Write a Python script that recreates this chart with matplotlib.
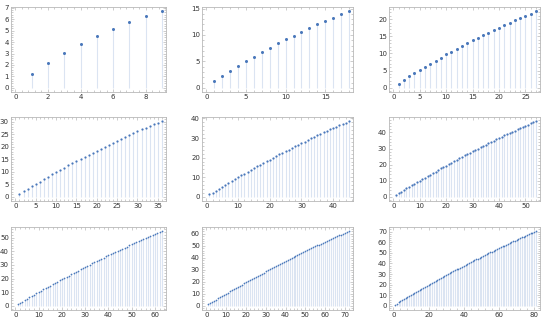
import matplotlib.pyplot as plt
from matplotlib.ticker import MultipleLocator, AutoMinorLocator

# values, one list per panel (k = 1..n)
vals_9 = [1.25, 2.2, 3.05, 3.85, 4.5, 5.15, 5.75, 6.25, 6.7]
vals_18 = [1.3, 2.3, 3.2, 4.15, 5.05, 5.9, 6.75, 7.6, 8.4, 9.15, 9.9, 10.6,
           11.3, 12.0, 12.65, 13.3, 13.9, 14.5]
vals_27 = [1.2, 2.2, 3.3, 4.3, 5.2, 6.1, 7.0, 7.9, 8.8, 9.7, 10.5, 11.4, 12.2,
           13.0, 13.8, 14.6, 15.4, 16.1, 16.8, 17.5, 18.2, 18.9, 19.6, 20.3,
           21.0, 21.6, 22.3]
vals_36 = [1.2, 2.2, 3.2, 4.2, 5.2, 6.1, 7.1, 8.0, 9.0, 9.9, 10.8, 11.7, 12.6,
           13.5, 14.3, 15.2, 16.0, 16.9, 17.7, 18.5, 19.3, 20.1, 20.9, 21.7,
           22.5, 23.2, 24.0, 24.7, 25.5, 26.2, 27.0, 27.7, 28.3, 29.0, 29.6,
           30.3]
vals_45 = [1.2, 2.2, 3.2, 4.2, 5.2, 6.1, 7.1, 8.0, 9.0, 9.9, 10.9, 11.8, 12.7,
           13.6, 14.6, 15.5, 16.4, 17.2, 18.1, 19.0, 19.9, 20.7, 21.6, 22.4,
           23.3, 24.1, 25.0, 25.8, 26.6, 27.4, 28.2, 29.0, 29.8, 30.6, 31.4,
           32.1, 32.9, 33.6, 34.4, 35.1, 35.8, 36.5, 37.2, 37.9, 38.6]
vals_54 = [1.2, 2.2, 3.2, 4.2, 5.2, 6.2, 7.1, 8.1, 9.1, 10.0, 11.0, 11.9, 12.9,
           13.8, 14.8, 15.7, 16.6, 17.6, 18.5, 19.4, 20.3, 21.2, 22.1, 23.0,
           23.9, 24.8, 25.7, 26.5, 27.4, 28.3, 29.1, 30.0, 30.8, 31.6, 32.5,
           33.3, 34.1, 34.9, 35.7, 36.5, 37.3, 38.1, 38.9, 39.6, 40.4, 41.2,
           41.9, 42.7, 43.4, 44.1, 44.9, 45.6, 46.3, 47.0]
vals_63 = [1.2, 2.2, 3.2, 4.2, 5.2, 6.2, 7.2, 8.1, 9.1, 10.1, 11.0, 12.0, 12.9,
           13.9, 14.8, 15.8, 16.7, 17.6, 18.6, 19.5, 20.4, 21.3, 22.2, 23.1,
           24.0, 24.9, 25.8, 26.7, 27.6, 28.5, 29.3, 30.2, 31.1, 31.9, 32.8,
           33.6, 34.5, 35.3, 36.2, 37.0, 37.8, 38.6, 39.4, 40.3, 41.1, 41.9,
           42.7, 43.4, 44.2, 45.0, 45.8, 46.6, 47.3, 48.1, 48.8, 49.6, 50.3,
           51.1, 51.8, 52.5, 53.3, 54.0, 54.7]
vals_72 = [1.2, 2.2, 3.2, 4.2, 5.2, 6.2, 7.2, 8.2, 9.1, 10.1, 11.1, 12.0, 13.0,
           13.9, 14.9, 15.8, 16.8, 17.7, 18.7, 19.6, 20.5, 21.5, 22.4, 23.3,
           24.2, 25.1, 26.0, 26.9, 27.8, 28.7, 29.6, 30.5, 31.4, 32.2, 33.1,
           34.0, 34.8, 35.7, 36.5, 37.4, 38.2, 39.1, 39.9, 40.7, 41.6, 42.4,
           43.2, 44.0, 44.8, 45.6, 46.4, 47.2, 48.0, 48.8, 49.6, 50.4, 51.1,
           51.9, 52.7, 53.4, 54.2, 55.0, 55.7, 56.5, 57.2, 57.9, 58.7, 59.4,
           60.1, 60.9, 61.6, 62.3]
vals_81 = [1.2, 2.2, 3.2, 4.2, 5.2, 6.2, 7.2, 8.2, 9.2, 10.1, 11.1, 12.1, 13.0,
           14.0, 14.9, 15.9, 16.8, 17.8, 18.7, 19.7, 20.6, 21.6, 22.5, 23.4,
           24.4, 25.3, 26.2, 27.1, 28.0, 28.9, 29.8, 30.7, 31.6, 32.5, 33.4,
           34.3, 35.2, 36.1, 36.9, 37.8, 38.7, 39.5, 40.4, 41.3, 42.1, 43.0,
           43.8, 44.6, 45.5, 46.3, 47.1, 48.0, 48.8, 49.6, 50.4, 51.2, 52.0,
           52.8, 53.6, 54.4, 55.2, 56.0, 56.8, 57.6, 58.4, 59.1, 59.9, 60.7,
           61.4, 62.2, 63.0, 63.7, 64.5, 65.2, 66.0, 66.7, 67.5, 68.2, 68.9,
           69.7, 70.4]

panels = [vals_9, vals_18, vals_27, vals_36, vals_45, vals_54, vals_63,
          vals_72, vals_81]
x_steps = [2, 5, 5, 5, 10, 10, 10, 10, 20]
y_steps = [1, 5, 5, 5, 10, 10, 10, 10, 10]

# frame boxes in pixels: (left, right) per column, (top, bottom) per row
cols = [(11, 166), (202, 353), (389, 540)]
rows = [(7, 92), (117, 201), (227, 310)]

W, H = 550, 326
fig = plt.figure(figsize=(W / 100, H / 100), dpi=100)

stem_col = "#dbe4f2"
dot_col = "#4a78bb"
frame_col = "#b8b8b8"
dot_sizes = [2.2, 1.6, 1.25]

for i, vals in enumerate(panels):
    r, c = divmod(i, 3)
    l, rt = cols[c]
    t, b = rows[r]
    ax = fig.add_axes([l / W, 1 - b / H, (rt - l) / W, (b - t) / H])
    n = len(vals)
    ks = list(range(1, n + 1))
    ax.vlines(ks, 0, vals, color=stem_col, lw=0.8)
    ax.plot(ks, vals, "o", color=dot_col, ms=dot_sizes[r], mew=0)
    top = max(vals)
    ax.set_xlim(-0.03 * n, n * 1.028)
    ax.set_ylim(-0.055 * top, top * 1.055)
    ax.xaxis.set_major_locator(MultipleLocator(x_steps[i]))
    ax.yaxis.set_major_locator(MultipleLocator(y_steps[i]))
    ax.xaxis.set_minor_locator(AutoMinorLocator(5))
    ax.yaxis.set_minor_locator(AutoMinorLocator(5))
    ax.tick_params(which="both", direction="in", top=True, right=True,
                   color=frame_col, width=0.5, labelsize=5, pad=1.5,
                   labelcolor="#333333")
    ax.tick_params(which="major", length=2.2)
    ax.tick_params(which="minor", length=1.1)
    for s in ax.spines.values():
        s.set_color(frame_col)
        s.set_linewidth(0.6)

fig.savefig("out.png", dpi=100)
